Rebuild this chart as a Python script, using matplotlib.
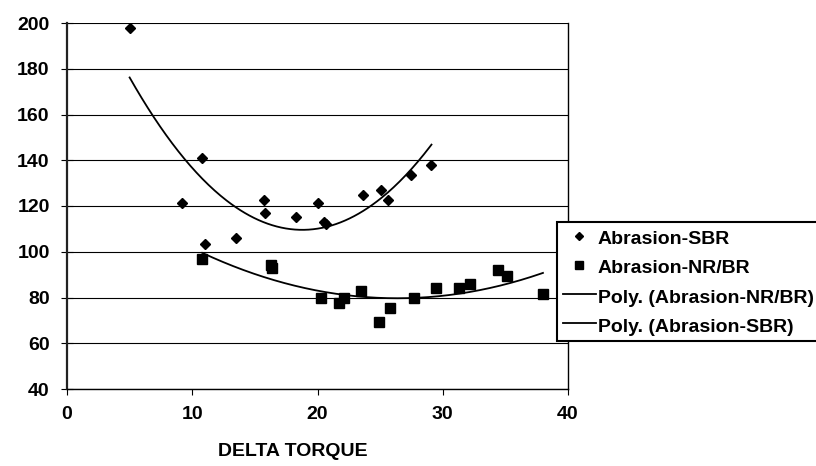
import numpy as np
import matplotlib
matplotlib.use("Agg")
import matplotlib.pyplot as plt

# Data
sbr_x = [5.0, 9.2, 10.8, 11.0, 13.5, 15.7, 15.8, 18.3, 20.0, 20.5, 20.7, 23.6, 25.1, 25.6, 27.5, 29.1]
sbr_y = [198, 121.5, 141, 103.5, 106, 122.5, 117, 115, 121.5, 113, 112, 125, 127, 122.5, 133.5, 138]
nr_x = [10.8, 16.3, 16.4, 20.3, 21.7, 22.1, 23.5, 24.9, 25.8, 27.7, 29.5, 31.3, 32.2, 34.4, 35.1, 38.0]
nr_y = [97, 94, 93, 80, 77.5, 80, 83, 69.5, 75.5, 80, 84, 84, 86, 92, 89.5, 81.5]

x_ticks = [0, 10, 20, 30, 40]
y_ticks = [40, 60, 80, 100, 120, 140, 160, 180, 200]
x_label = "DELTA TORQUE"
labels = ["Abrasion-SBR", "Abrasion-NR/BR", "Poly. (Abrasion-NR/BR)", "Poly. (Abrasion-SBR)"]

plt.rcParams['font.family'] = ['Liberation Sans', 'DejaVu Sans']
plt.rcParams['font.weight'] = 'bold'

FS = 14

fig = plt.figure(figsize=(8.16, 4.66), dpi=100)
ax = fig.add_axes([67/816, 1-389/466, (568-67)/816, (389-23)/466])

# trendlines (2nd order polynomial least squares, as Excel)
p_sbr = np.polyfit(sbr_x, sbr_y, 2)
p_nr = np.polyfit(nr_x, nr_y, 2)
xs_sbr = np.linspace(min(sbr_x), max(sbr_x), 200)
xs_nr = np.linspace(min(nr_x), max(nr_x), 200)

h1, = ax.plot(sbr_x, sbr_y, linestyle='none', marker='D', markersize=5, color='black', zorder=3)
h2, = ax.plot(nr_x, nr_y, linestyle='none', marker='s', markersize=6.5, color='black', zorder=3)
h3, = ax.plot(xs_nr, np.polyval(p_nr, xs_nr), color='black', lw=1.3, zorder=2)
h4, = ax.plot(xs_sbr, np.polyval(p_sbr, xs_sbr), color='black', lw=1.3, zorder=2)

ax.set_xlim(0, 40)
ax.set_ylim(40, 200)
ax.set_xticks(x_ticks)
ax.set_yticks(y_ticks)
ax.yaxis.grid(True, color='black', lw=0.8)
ax.set_axisbelow(True)
for s in ['top', 'right']:
    ax.spines[s].set_visible(False)
ax.spines['left'].set_color('#222222')
ax.spines['left'].set_linewidth(1.6)
ax.spines['bottom'].set_color('black')
ax.spines['bottom'].set_linewidth(1.0)
ax.plot([1, 1], [0, 1], transform=ax.transAxes, color='black', lw=1.0, clip_on=False)
ax.tick_params(axis='y', labelsize=FS, direction='inout', length=9, width=0.8, colors='black', pad=8)
ax.tick_params(axis='x', labelsize=FS, direction='out', length=4.5, width=0.8, colors='black', pad=8)
for t in ax.get_xticklabels() + ax.get_yticklabels():
    t.set_fontweight('bold')
ax.set_xlabel(x_label, fontsize=14, fontweight='bold')
ax.xaxis.set_label_coords((293-67)/501, (389-452)/366)
ax.xaxis.label.set_verticalalignment('center')

leg = fig.legend([h1, h2, h3, h4], labels, loc='upper left',
                 bbox_to_anchor=(557/816, 1-222/466), bbox_transform=fig.transFigure,
                 prop={'weight': 'bold', 'size': FS}, frameon=True, fancybox=False,
                 edgecolor='black', framealpha=1, handlelength=1.7, handletextpad=0.1,
                 handleheight=1.2, labelspacing=0.44, borderpad=0.3, borderaxespad=0,
                 markerscale=0.8)
leg.get_frame().set_linewidth(1.5)

fig.savefig("out.png", dpi=100)
